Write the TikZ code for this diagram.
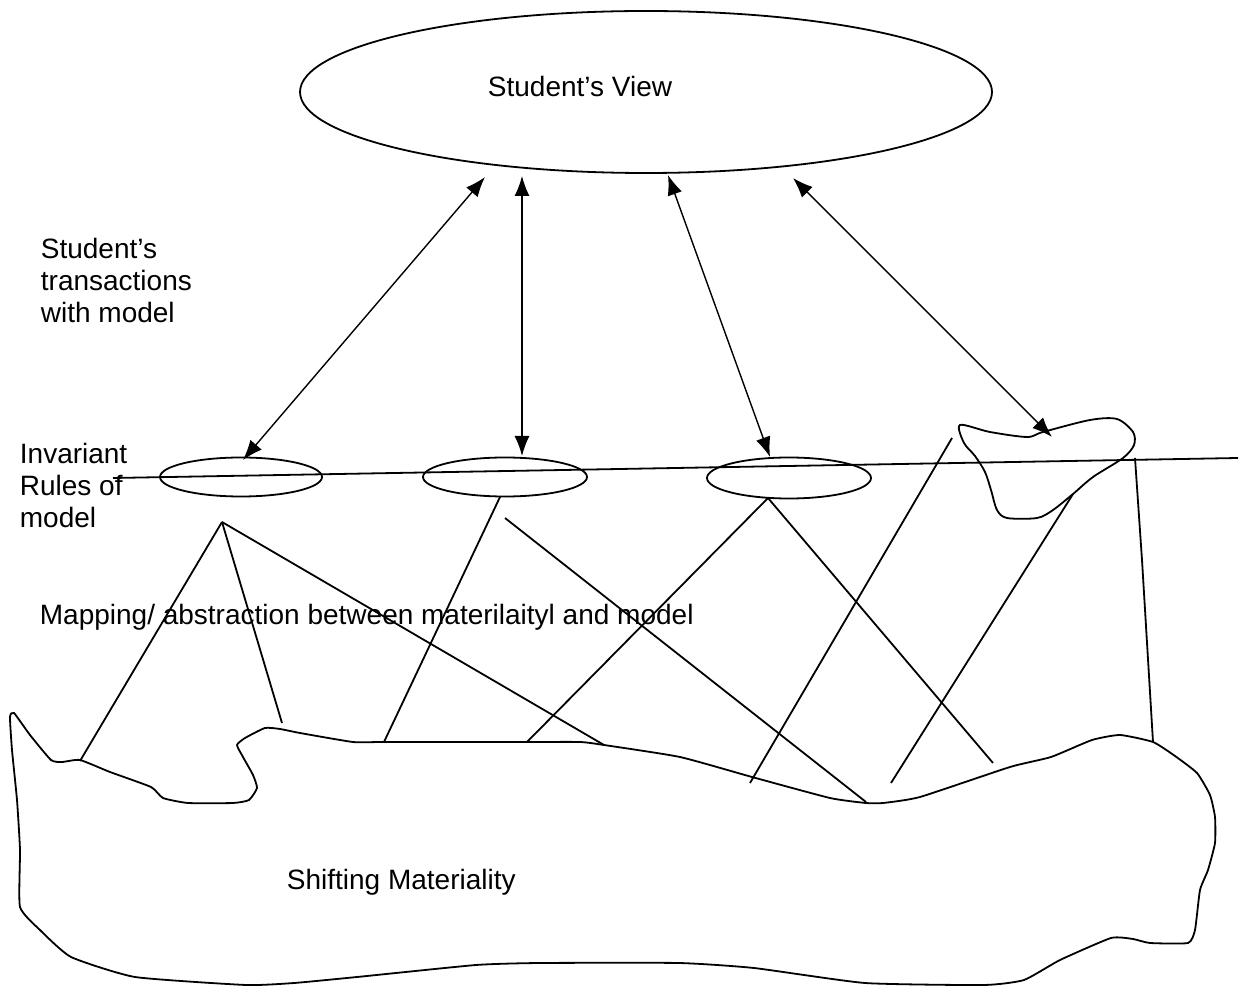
\documentclass[tikz,border=0pt]{standalone}
\usepackage{fontspec}
\setmainfont{Liberation Sans}
\usetikzlibrary{shapes.geometric,arrows.meta}

\begin{document}
\begin{tikzpicture}[x=0.5pt,y=-0.5pt,line width=0.9pt,
  rulebox/.style={draw,ellipse,inner sep=0pt,minimum height=19.5pt},
  txt/.style={anchor=north west,inner sep=0pt,align=left,font=\fontsize{14}{16}\selectfont},
  link/.style={{Latex[length=10pt,width=7.5pt]}-{Latex[length=10pt,width=7.5pt]},line width=0.7pt}]
\useasboundingbox (0,0) rectangle (1243,989);

\node[draw,ellipse,inner sep=0pt,minimum width=346pt,minimum height=81pt] (view) at (646,92) {};
\node[txt] (viewtext) at (487,75) {Student's View};

\node[txt] (trans) at (40,237) {Student's\\transactions\\with model};
\node[txt] (rules) at (19,442) {Invariant\\Rules of\\model};
\node[txt] (mapping) at (39,603) {Mapping/ abstraction between materilaityl and model};
\node[txt] (shift) at (286,868) {Shifting Materiality};

\node[rulebox,minimum width=81pt] (r1) at (241,477) {};
\node[rulebox,minimum width=82pt] (r2) at (505,477) {};
\node[rulebox,minimum width=82pt,minimum height=20.5pt] (r3) at (789,478) {};

\coordinate (ruleleft) at (113,478);
\coordinate (ruleright) at (1238,458);
\draw (ruleleft) -- (ruleright);

\draw plot[smooth cycle,tension=0.5] coordinates {(960,425) (990,432) (1027,437)
  (1043,432) (1090,420) (1117,419) (1133,432) (1134,445) (1123,458) (1093,477)
  (1073,494) (1053,510) (1037,518) (1007,518) (997,510) (991,490) (985,472)
  (975,456) (964,443)};

\draw plot[smooth cycle,tension=0.3] coordinates {(14,713) (30,735) (51,760)
  (62,762) (80,760) (110,772) (151,787) (163,798) (188,803) (233,803) (249,800)
  (257,788) (253,775) (243,757) (237,745) (245,738) (265,728) (280,729) (300,733)
  (353,742) (384,742) (527,742) (580,742) (604,745) (680,757) (752,777) (830,798)
  (866,803) (883,803) (920,797) (1010,767) (1051,757) (1092,740) (1120,735)
  (1153,742) (1175,756) (1197,773) (1210,795) (1215,817) (1215,843) (1208,870)
  (1200,890) (1195,930) (1188,943) (1150,943) (1133,939) (1111,938) (1060,960)
  (1024,980) (984,985) (865,983) (754,968) (679,963) (540,963) (476,965)
  (357,977) (294,983) (246,985) (135,977) (71,957) (40,930) (20,907) (20,850)
  (17,800) (12,750) (10,717)};

\coordinate (v1) at (485,177);
\coordinate (v2) at (522,176);
\coordinate (v3) at (668,175);
\coordinate (v4) at (793,178);
\coordinate (t1) at (243,460);
\coordinate (t2) at (522,456);
\coordinate (t3) at (770,457);
\coordinate (t4) at (1052,437);
\draw[link] (v1) -- (t1);
\draw[link] (v2) -- (t2);
\draw[link] (v3) -- (t3);
\draw[link] (v4) -- (t4);

\coordinate (m1) at (222,522);
\coordinate (m2) at (500,497);
\coordinate (m3) at (505,518);
\coordinate (m4) at (768,498);
\coordinate (m5) at (952,438);
\coordinate (m6) at (1073,494);
\coordinate (m7) at (1135,458);
\coordinate (g1) at (80,761);
\coordinate (g2) at (282,723);
\coordinate (g3) at (604,745);
\coordinate (g4) at (384,742);
\coordinate (g5) at (866,802);
\coordinate (g6) at (527,742);
\coordinate (g7) at (993,763);
\coordinate (g8) at (750,783);
\coordinate (g9) at (891,783);
\coordinate (g10) at (1153,742);
\draw (m1) -- (g1);
\draw (m1) -- (g2);
\draw (m1) -- (g3);
\draw (m2) -- (g4);
\draw (m3) -- (g5);
\draw (m4) -- (g6);
\draw (m4) -- (g7);
\draw (m5) -- (g8);
\draw (m6) -- (g9);
\draw (m7) -- (1142,560) -- (g10);
\end{tikzpicture}
\end{document}
